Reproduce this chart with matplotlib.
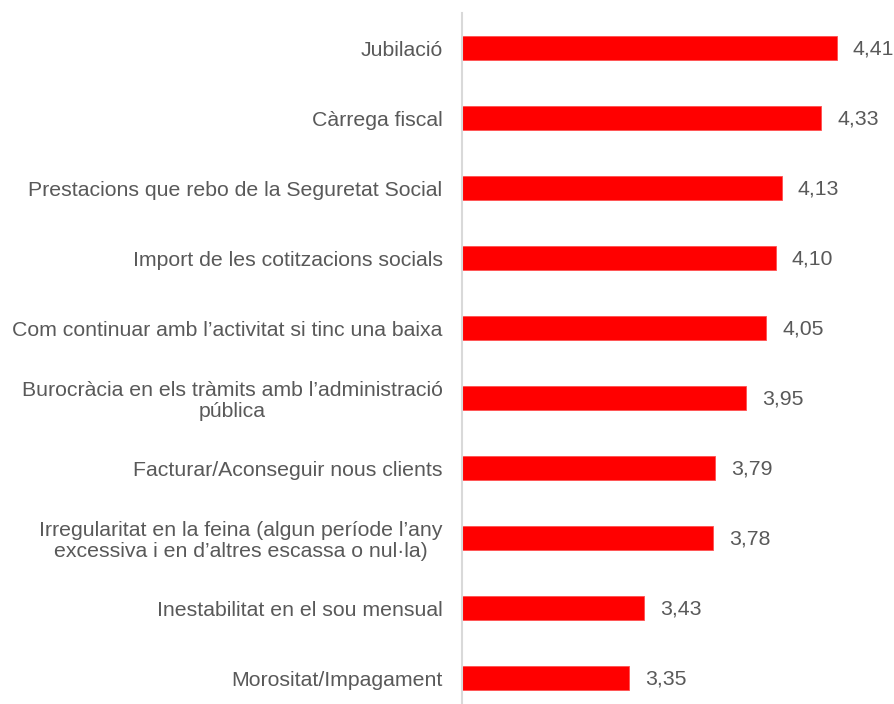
import matplotlib
matplotlib.use("Agg")
import matplotlib.pyplot as plt

categories = [
    "Jubilació",
    "Càrrega fiscal",
    "Prestacions que rebo de la Seguretat Social",
    "Import de les cotitzacions socials",
    "Com continuar amb l’activitat si tinc una baixa",
    "Burocràcia en els tràmits amb l’administració\npública",
    "Facturar/Aconseguir nous clients",
    "Irregularitat en la feina (algun període l’any\nexcessiva i en d’altres escassa o nul·la)",
    "Inestabilitat en el sou mensual",
    "Morositat/Impagament",
]
values = [4.41, 4.33, 4.13, 4.10, 4.05, 3.95, 3.79, 3.78, 3.43, 3.35]

plt.rcParams['font.family'] = ['Liberation Sans', 'DejaVu Sans']
text_color = "#595959"
fs = 15.35

fig = plt.figure(figsize=(8.94, 7.04), dpi=100)
W, H = 894, 704
left_px, right_px = 462, 854.4
top_px, bottom_px = 13, 713
ax = fig.add_axes([left_px / W, (H - bottom_px) / H,
                   (right_px - left_px) / W, (bottom_px - top_px) / H])

y = list(range(len(categories)))
ax.barh(y, values, left=0, height=0.355, color="#FF0000",
        edgecolor="#FF5050", linewidth=0.6)
ax.set_xlim(2.5, 4.5)
ax.set_ylim(len(categories) - 0.5, -0.5)
ax.set_yticks(y)
ax.set_yticklabels(categories, fontsize=fs, color=text_color,
                   ha="right", multialignment="center", linespacing=1.12)
ax.tick_params(axis="y", length=0, pad=14)
ax.set_xticks([])

for sp in ["top", "right", "bottom"]:
    ax.spines[sp].set_visible(False)
ax.spines["left"].set_color("#D9D9D9")
ax.spines["left"].set_linewidth(1.5)

for yi, v in zip(y, values):
    ax.annotate(f"{v:.2f}".replace(".", ","), xy=(v, yi), xytext=(11.5, -0.5),
                textcoords="offset points", va="center", ha="left",
                fontsize=fs, color=text_color)

fig.savefig("out.png", dpi=100)
